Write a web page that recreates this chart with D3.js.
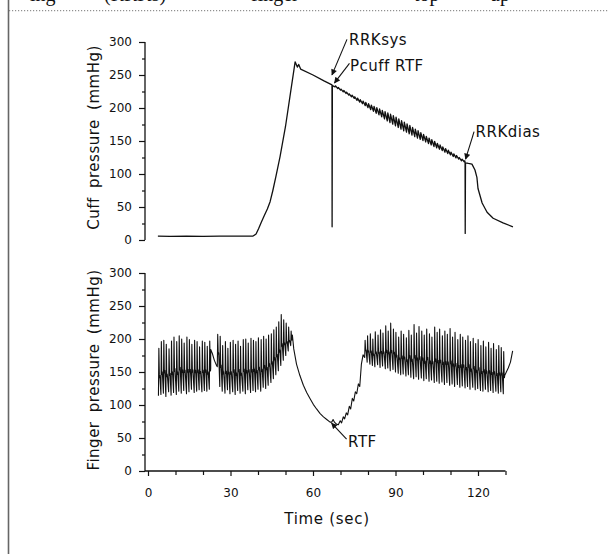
<!DOCTYPE html>
<html>
<head>
<meta charset="utf-8">
<script src="https://cdn.jsdelivr.net/npm/d3@7"></script>
<style>
  body { margin: 0; background: #fff; }
  svg { display: block; }
  text { font-family: "DejaVu Sans", sans-serif; fill: #111; }
</style>
</head>
<body>
<svg id="main"></svg>
<script>
const width = 608;
const height = 554;

// tick labels
const yTicks = [0, 50, 100, 150, 200, 250, 300];
const yMinorTicks = [25, 75, 125, 175, 225, 275];
const xTicks = [0, 30, 60, 90, 120];
const xMinorTicks = [10, 20, 40, 50, 70, 80, 100, 110, 130];

// cuff pressure (time sec, mmHg)
const cuffRise = [[3.6, 6], [8, 5.5], [14, 6], [20, 5.5], [26, 6], [32, 6], [38.2, 6], [39.3, 9], [40.2, 17],
    [41.2, 27], [42.3, 37], [43.4, 47], [44.4, 58], [45.4, 75], [46.5, 96], [48, 126], [50, 172],
    [51.6, 217], [53.5, 270], [54.3, 262], [54.8, 266], [55.5, 259], [60, 250], [64, 241], [66.9, 235]];
const cuffSysMark = [[66.9, 235], [66.95, 20], [67.05, 234]];
// cuff oscillations during deflation: [time, high, low]
const cuffOsc = [[68, 233.5, 232], [69, 231, 229.5], [70, 228.5, 227], [71, 226.5, 224.5], [72, 224, 222],
    [73, 221.5, 219.5], [74, 219.5, 217], [75, 217, 214.5], [76, 215, 211.5], [77, 212.5, 209],
    [78, 210.5, 206.5], [79, 208.5, 203.5], [80, 206.5, 200.5], [81, 204.5, 197.5], [82, 202.5, 195],
    [83, 200.5, 192], [84, 198.5, 189.5], [85, 196.5, 186.5], [86, 194.5, 183.5], [87, 192.5, 180.5],
    [88, 190.5, 178], [89, 188.5, 175.5], [90, 186, 173], [91, 183.5, 170.5], [92, 181, 168],
    [93, 178.5, 165.5], [94, 176, 163.5], [95, 173.5, 161], [96, 170.5, 159], [97, 168, 156.5],
    [98, 165.5, 154.5], [99, 162.5, 152.5], [100, 160, 150.5], [101, 157, 148.5], [102, 154.5, 146],
    [103, 152, 144], [104, 149.5, 141.5], [105, 146.5, 139.5], [106, 144, 137.5], [107, 141, 135.5],
    [108, 138.5, 133], [109, 136, 131], [110, 133, 129], [111, 130.5, 126.5], [112, 128, 124.5],
    [113, 125, 122.5], [114, 122.5, 120], [115, 120, 118.5]];
const cuffDiasMark = [[115.3, 118], [115.35, 10], [115.45, 117]];
const cuffTail = [[116.5, 116], [117.8, 115], [118.9, 106], [119.6, 95], [120, 78], [121.5, 56],
    [123.3, 42], [125.5, 33], [129.1, 26], [132.7, 20]];

// finger pressure beats: [time, systolic, diastolic]
const beats1 = [[3.8, 186, 114], [4.7, 196, 116], [5.6, 198, 118], [6.5, 192, 113], [7.5, 185, 120],
    [8.4, 197, 115], [9.3, 203, 119], [10.3, 196, 116], [11.2, 205, 121], [12.1, 200, 118],
    [13.0, 194, 122], [14.0, 203, 117], [14.9, 199, 120], [15.8, 192, 124], [16.8, 198, 119],
    [17.7, 196, 121], [18.6, 188, 123], [19.6, 197, 120], [20.5, 195, 122], [21.4, 189, 121],
    [22.3, 197, 124]];
const pause = [[22.8, 184], [23.4, 178], [24.1, 168], [24.9, 160]];
const beats2 = [[25.2, 207, 158], [26.1, 204, 128], [27.0, 190, 121], [28.0, 196, 118], [28.9, 186, 123],
    [29.8, 195, 117], [30.8, 198, 120], [31.7, 192, 116], [32.6, 197, 122], [33.5, 189, 118],
    [34.5, 199, 121], [35.4, 200, 117], [36.3, 194, 123], [37.3, 201, 119], [38.2, 198, 122],
    [39.1, 196, 120], [40.0, 202, 124], [41.0, 199, 121], [41.9, 204, 127], [42.8, 200, 125],
    [43.7, 206, 130], [44.7, 208, 134], [45.6, 214, 140], [46.5, 218, 146], [47.4, 226, 152],
    [48.3, 237, 160], [49.2, 229, 168], [50.1, 224, 175], [51.0, 218, 182], [51.9, 212, 190]];
const dip = [[52.5, 206], [53.0, 185], [54.0, 162], [55.2, 145], [56.5, 130], [57.7, 119], [58.9, 110],
    [60.1, 101], [61.3, 94], [62.6, 87], [63.8, 82], [65.0, 78], [66.2, 74], [66.8, 74], [67.3, 78],
    [67.8, 74], [68.5, 71], [69.2, 70], [69.9, 76], [70.4, 73], [71.0, 82], [71.5, 79], [72.1, 88],
    [72.6, 85], [73.2, 98], [73.7, 94], [74.3, 110], [74.8, 106], [75.4, 120], [75.9, 117],
    [76.5, 132], [77.0, 128], [77.6, 162], [78.2, 176]];
const beats3 = [[78.8, 198, 172], [79.7, 205, 165], [80.7, 208, 162], [81.6, 200, 160], [82.5, 211, 158],
    [83.5, 206, 161], [84.4, 214, 157], [85.3, 209, 159], [86.3, 220, 155], [87.2, 212, 156],
    [88.1, 224, 152], [89.1, 215, 154], [90.0, 210, 150], [91.0, 203, 148], [91.9, 212, 146],
    [92.8, 207, 147], [93.8, 202, 144], [94.7, 213, 146], [95.6, 206, 142], [96.6, 222, 140],
    [97.5, 209, 143], [98.4, 219, 139], [99.4, 212, 141], [100.3, 206, 137], [101.2, 215, 140],
    [102.2, 208, 136], [103.1, 203, 138], [104.1, 218, 134], [105.0, 210, 136], [105.9, 215, 133],
    [106.9, 205, 135], [107.8, 212, 131], [108.7, 207, 134], [109.7, 216, 130], [110.6, 203, 132],
    [111.5, 210, 128], [112.5, 199, 131], [113.4, 207, 127], [114.3, 203, 129], [115.3, 198, 126],
    [116.2, 205, 128], [117.1, 196, 124], [118.1, 201, 127], [119.0, 193, 123], [119.9, 199, 125],
    [120.9, 190, 122], [121.8, 197, 121], [122.7, 188, 124], [123.7, 195, 120], [124.6, 186, 122],
    [125.5, 193, 119], [126.5, 184, 121], [127.4, 190, 118], [128.3, 187, 120], [129.2, 181, 117]];
const fingerTail = [[130.3, 150], [131.0, 156], [131.8, 165], [132.6, 182]];

// annotations: [label, time, mmHg]
const cuffNotes = [['RRKsys', 66.9, 235], ['Pcuff RTF', 66.9, 235], ['RRKdias', 115.3, 118]];
const fingerNotes = [['RTF', 67.3, 74]];

const svg = d3.select('#main').attr('width', width).attr('height', height);

// page edge bits from the scanned page
svg.append('line').attr('x1', 8.5).attr('x2', 8.5).attr('y1', 0).attr('y2', height)
    .attr('stroke', '#666').attr('stroke-width', 1.6);
svg.append('line').attr('x1', 9).attr('x2', width).attr('y1', 10.7).attr('y2', 10.7)
    .attr('stroke', '#777').attr('stroke-width', 1).attr('stroke-dasharray', '1.2,1.8');
const capWords = [['ing', 30], ['(RRKs)', 104], ['finger', 251], ['top', 414], ['up', 490]];
svg.append('g').selectAll('text').data(capWords).join('text')
    .attr('x', d => d[1]).attr('y', 0.5)
    .style('font-family', '"Liberation Serif", serif').style('font-size', '20px')
    .text(d => d[0]);

// scales
const x = d3.scaleLinear().domain([0, 130]).range([148, 505.5]);
const yTop = d3.scaleLinear().domain([0, 300]).range([240, 42]);
const yBot = d3.scaleLinear().domain([0, 300]).range([471, 273]);
const axisX = 145;

function drawYAxis(scale) {
    const g = svg.append('g').attr('transform', `translate(${axisX},0)`);
    g.append('g').call(d3.axisLeft(scale).tickValues(yTicks).tickSize(6).tickPadding(7).tickSizeOuter(0));
    g.append('g').call(d3.axisLeft(scale).tickValues(yMinorTicks).tickSize(3).tickFormat(''));
    g.selectAll('.domain').remove();
    g.append('line').attr('y1', scale(0)).attr('y2', scale(300)).attr('stroke', '#111').attr('stroke-width', 1.3);
    g.selectAll('.tick line').attr('stroke', '#111').attr('stroke-width', 1.2);
    g.selectAll('.tick text').style('font-size', '12px').style('font-family', '"DejaVu Sans", sans-serif');
}
drawYAxis(yTop);
drawYAxis(yBot);

const xg = svg.append('g').attr('transform', `translate(0,${yBot(0)})`);
xg.append('g').call(d3.axisBottom(x).tickValues(xTicks).tickSize(5).tickPadding(12).tickSizeOuter(0));
xg.append('g').call(d3.axisBottom(x).tickValues(xMinorTicks).tickSize(4).tickFormat(''));
xg.selectAll('.domain').remove();
xg.append('line').attr('x1', axisX).attr('x2', x(130)).attr('stroke', '#111').attr('stroke-width', 1.3);
xg.selectAll('.tick line').attr('stroke', '#111').attr('stroke-width', 1.2);
xg.selectAll('.tick text').style('font-size', '12px').style('font-family', '"DejaVu Sans", sans-serif');

// axis titles
svg.append('text').attr('transform', 'translate(99,137.5) rotate(-90)')
    .attr('text-anchor', 'middle').style('font-size', '15px').style('letter-spacing', '0.5px')
    .style('word-spacing', '4px').text('Cuff pressure (mmHg)');
svg.append('text').attr('transform', 'translate(99,370) rotate(-90)')
    .attr('text-anchor', 'middle').style('font-size', '15px').style('letter-spacing', '0.5px')
    .style('word-spacing', '4px').text('Finger pressure (mmHg)');
svg.append('text').attr('x', 327).attr('y', 524).attr('text-anchor', 'middle')
    .style('font-size', '15px').style('letter-spacing', '0.7px').text('Time (sec)');

// cuff trace
const cuffPts = [...cuffRise, ...cuffSysMark];
cuffOsc.forEach(d => { cuffPts.push([d[0], d[2]], [d[0] + 0.2, d[1]]); });
cuffPts.push(...cuffDiasMark, ...cuffTail);
const topLine = d3.line().x(d => x(d[0])).y(d => yTop(d[1]));
svg.append('path').attr('d', topLine(cuffPts)).attr('fill', 'none')
    .attr('stroke', '#111').attr('stroke-width', 1.3).attr('stroke-linejoin', 'round');

// finger trace: each beat drawn as upstroke, peak, dicrotic notch
function pulse(b) {
    const [t, s, d] = b;
    const pp = s - d;
    return [[t, d], [t + 0.15, s], [t + 0.32, d + 0.45 * pp], [t + 0.42, d + 0.38 * pp], [t + 0.5, d + 0.43 * pp]];
}
const fingerPts = [
    ...beats1.flatMap(pulse), ...pause,
    ...beats2.flatMap(pulse), ...dip,
    ...beats3.flatMap(pulse), ...fingerTail
];
const botLine = d3.line().x(d => x(d[0])).y(d => yBot(d[1]));
svg.append('path').attr('d', botLine(fingerPts)).attr('fill', 'none')
    .attr('stroke', '#111').attr('stroke-width', 1.1).attr('stroke-linejoin', 'round');

// arrows
svg.append('defs').append('marker').attr('id', 'arr')
    .attr('viewBox', '0 0 10 10').attr('refX', 9).attr('refY', 5)
    .attr('markerWidth', 7).attr('markerHeight', 6).attr('markerUnits', 'userSpaceOnUse')
    .attr('orient', 'auto')
    .append('path').attr('d', 'M0,0L10,5L0,10z').attr('fill', '#111');

// offsets from the anchor point: tip, tail, text
const cuffOffsets = [
    {tip: [0, -10], tail: [15, -45.5], txt: [17, -40]},
    {tip: [2.5, -2], tail: [17.5, -21.5], txt: [18, -14]},
    {tip: [0.5, -3], tail: [9, -30.5], txt: [10.5, -25]}
];
const fingerOffsets = [{tip: [-1.5, 1], tail: [13.5, 17], txt: [15, 24.5]}];

function drawNotes(notes, offsets, yScale) {
    notes.forEach((n, i) => {
        const px = x(n[1]), py = yScale(n[2]);
        const o = offsets[i];
        svg.append('line')
            .attr('x1', px + o.tail[0]).attr('y1', py + o.tail[1])
            .attr('x2', px + o.tip[0]).attr('y2', py + o.tip[1])
            .attr('stroke', '#111').attr('stroke-width', 1.1).attr('marker-end', 'url(#arr)');
        svg.append('text').attr('x', px + o.txt[0]).attr('y', py + o.txt[1])
            .style('font-size', '15px').style('letter-spacing', '0.5px').text(n[0]);
    });
}
drawNotes(cuffNotes, cuffOffsets, yTop);
drawNotes(fingerNotes, fingerOffsets, yBot);
</script>
</body>
</html>
